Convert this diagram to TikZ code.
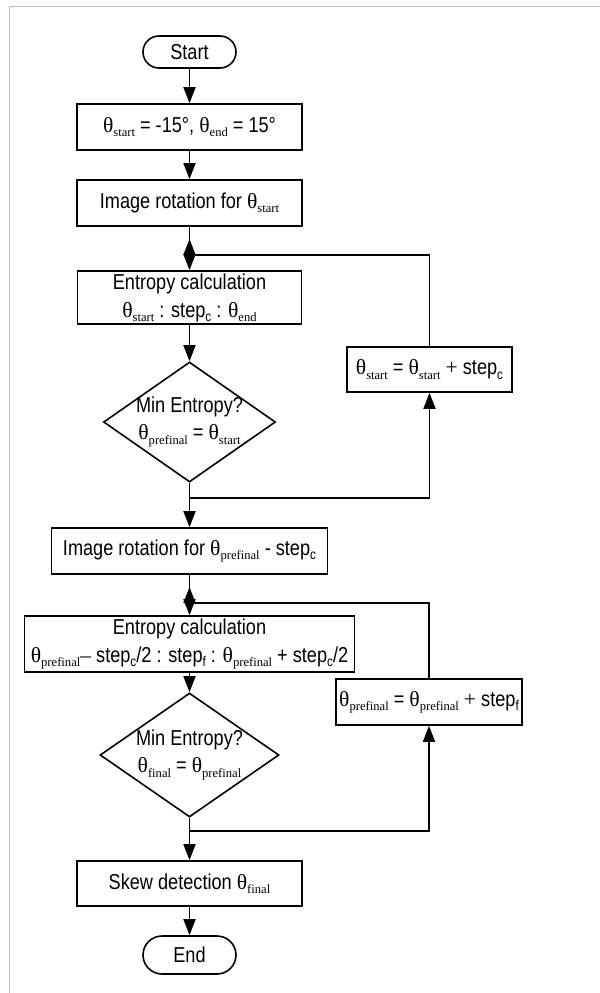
\documentclass[tikz,border=0pt]{standalone}
\usepackage{fontspec}
\setmainfont{Liberation Sans}[FakeStretch=0.84]
\newfontfamily\tmsfont{Liberation Serif}
\usetikzlibrary{shapes.geometric,arrows.meta}

% theta with a subscript, and step with a subscript
\newcommand{\thsub}[1]{{\tmsfont θ\raisebox{-2.2pt}{\fontsize{6.3}{7}\selectfont #1}}}
\newcommand{\stepsub}[1]{step\raisebox{-2.2pt}{\fontsize{7}{8}\selectfont #1}}

\tikzset{
  box/.style={draw, rectangle, inner sep=0pt, align=center,
    font=\fontsize{10.8}{14}\selectfont},
  term/.style={box, rounded corners=8pt},
  decision/.style={draw, diamond, inner sep=-4pt, aspect=1.43, align=center,
    font=\fontsize{10.8}{13.5}\selectfont},
  flow/.style={-{Triangle[length=8pt,width=6pt]}},
  backtip/.style={-{Triangle[reversed,length=8pt,width=6pt]}},
}

\begin{document}
\begin{tikzpicture}[x=0.5pt, y=-0.5pt, line width=0.8pt]
  \useasboundingbox (0,0) rectangle (600,993);
  % frame
  \draw[black!25, line width=0.8pt] (9.5,993) -- (9.5,6.5) -- (600,6.5);

  % 1. coarse search
  \node[term, minimum width=46.5pt, minimum height=16pt] (start) at (189.5,52) {Start};
  \node[box, minimum width=112.5pt, minimum height=23pt] (init) at (189.5,127)
    {\thsub{start} = -15°, \thsub{end} = 15°};
  \node[box, minimum width=112.5pt, minimum height=23pt] (rot1) at (189.5,203)
    {Image rotation for \thsub{start}};
  \coordinate (j1) at (189.5,255);
  \node[box, minimum width=112pt, minimum height=26.5pt] (ent1) at (189.5,297.5)
    {Entropy calculation\\ \thsub{start} : \stepsub{c} : \thsub{end}};
  \node[decision, minimum width=86pt, minimum height=60pt] (dec1) at (189.5,422)
    {Min Entropy?\\ \thsub{prefinal} = \thsub{start}};
  \coordinate (j2) at (189.5,498);
  \node[box, minimum width=82.5pt, minimum height=22.5pt] (upd1) at (429.5,369.5)
    {\thsub{start} = \thsub{start} {\tmsfont +} \stepsub{c}};

  % 2. fine search
  \node[box, minimum width=138pt, minimum height=23pt] (rot2) at (189.5,551)
    {Image rotation for \thsub{prefinal} - \stepsub{c}};
  \coordinate (j3) at (189.5,603);
  \node[box, minimum width=165pt, minimum height=28pt] (ent2) at (189.5,644)
    {Entropy calculation\\ \thsub{prefinal}{\tmsfont –} \stepsub{c}/2 : \stepsub{f} : \thsub{prefinal} + \stepsub{c}/2};
  \node[decision, minimum width=89.5pt, minimum height=62pt] (dec2) at (189.5,755)
    {Min Entropy?\\ \thsub{final} = \thsub{prefinal}};
  \coordinate (j4) at (189.5,831);
  \node[box, minimum width=93pt, minimum height=23pt] (upd2) at (429,702)
    {\thsub{prefinal} = \thsub{prefinal} {\tmsfont +} \stepsub{f}};

  % 3. result
  \node[box, minimum width=112.5pt, minimum height=22.5pt] (skew) at (189.5,883.5)
    {Skew detection \thsub{final}};
  \node[term, minimum width=46.5pt, minimum height=19pt, rounded corners=9.5pt] (stop) at (189.5,955) {End};

  % main flow
  \draw[flow] (start) -- (init);
  \draw[flow] (init) -- (rot1);
  \draw[backtip] (rot1) -- (j1);
  \draw[flow] (j1) -- (ent1);
  \draw[flow] (ent1) -- (dec1);
  \draw[flow] (dec1) -- (rot2);
  \draw[backtip] (rot2) -- (j3);
  \draw[flow] (j3) -- (ent2);
  \draw[flow] (ent2) -- (dec2);
  \draw[flow] (dec2) -- (skew);
  \draw[flow] (skew) -- (stop);

  % loops
  \draw[flow] (j2) -| (upd1);
  \draw (upd1) |- (j1);
  \draw[flow] (j4) -| (upd2);
  \draw (upd2) |- (j3);
\end{tikzpicture}
\end{document}
